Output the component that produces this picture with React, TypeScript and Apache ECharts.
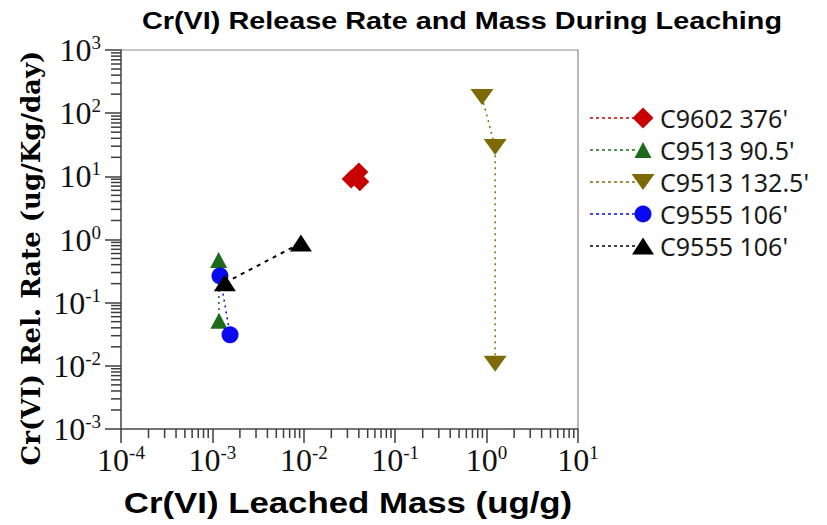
import React, { useEffect, useRef } from "react";
import * as echarts from "echarts";

// Series names and colours
const seriesNames = ["C9602 376'", "C9513 90.5'", "C9513 132.5'", "C9555 106'", "C9555 106'"];
const seriesColors = ["#c80000", "#1c6b1c", "#7d6a05", "#0a0af0", "#000000"];

// [leached mass (ug/g), release rate (ug/Kg/day)]
const c9602_376: [number, number][] = [
  [0.033, 9.1],
  [0.04, 11.7],
  [0.041, 8.2],
];
const c9513_905: [number, number][] = [
  [0.00117, 0.475],
  [0.00118, 0.0515],
];
const c9513_1325: [number, number][] = [
  [0.89, 180],
  [1.24, 29.2],
  [1.24, 0.0108],
];
const c9555_106a: [number, number][] = [
  [0.00121, 0.265],
  [0.00156, 0.031],
];
const c9555_106b: [number, number][] = [
  [0.00137, 0.206],
  [0.0093, 0.88],
];

const xRange = [1e-4, 10];
const yRange = [1e-3, 1e3];

// Decades used for the logarithmic minor ticks (2..9 within each decade)
const xDecades = [1e-4, 1e-3, 1e-2, 1e-1, 1];
const yDecades = [1e-3, 1e-2, 1e-1, 1, 10, 100];
const minorMultipliers = [2, 3, 4, 5, 6, 7, 8, 9];

const W = 827;
const H = 525;
const GRID = { left: 121, right: 249, top: 50, bottom: 96 };

const supLabel = (v: number) => {
  const e = Math.round(Math.log10(v));
  return `{b|10}{s|${e}}`;
};

const labelRich = {
  b: { fontFamily: "Liberation Serif", fontSize: 32, color: "#111", lineHeight: 34 },
  s: { fontFamily: "Liberation Serif", fontSize: 19, color: "#111", verticalAlign: "top", lineHeight: 34 },
};

const TICK_COLOR = "#3c3c3c";

export default function App() {
  const ref = useRef<HTMLDivElement>(null);

  useEffect(() => {
    document.body.style.margin = "0";
    if (!ref.current) return;
    const chart = echarts.init(ref.current, undefined, { renderer: "svg" });

    const symbolDefs = [
      { symbol: "diamond", size: [19, 19], rotate: 0 },
      { symbol: "triangle", size: [17, 16], rotate: 0 },
      { symbol: "triangle", size: [23, 16], rotate: 180 },
      { symbol: "circle", size: [17, 17], rotate: 0 },
      { symbol: "triangle", size: [22, 17], rotate: 0 },
    ];
    const datasets = [c9602_376, c9513_905, c9513_1325, c9555_106a, c9555_106b];

    const series: any[] = datasets.map((d, i) => ({
      type: "line",
      name: seriesNames[i],
      data: d,
      symbol: symbolDefs[i].symbol,
      symbolSize: symbolDefs[i].size,
      symbolRotate: symbolDefs[i].rotate,
      lineStyle: {
        color: seriesColors[i],
        width: i === 4 ? 2 : 1.5,
        type: i === 4 ? [4, 5] : [2, 4],
      },
      itemStyle: { color: seriesColors[i] },
      z: 3 + i,
    }));

    // Hand-drawn legend: dotted line sample followed by the marker
    const legendTop = 118;
    const legendStep = 32;
    const legendEls: any[] = [];
    seriesNames.forEach((name, i) => {
      const y = legendTop + i * legendStep;
      const c = seriesColors[i];
      legendEls.push({
        type: "line",
        shape: { x1: 590, y1: y, x2: 636, y2: y },
        style: { stroke: c, lineWidth: 1.4, lineDash: [3, 3] },
      });
      const mx = 643;
      const sd = symbolDefs[i];
      const hw = sd.size[0] / 2;
      const hh = sd.size[1] / 2;
      if (sd.symbol === "circle") {
        legendEls.push({ type: "circle", shape: { cx: mx, cy: y, r: hw }, style: { fill: c } });
      } else if (sd.symbol === "diamond") {
        legendEls.push({
          type: "polygon",
          shape: { points: [[mx, y - hh - 1], [mx + hw + 1, y], [mx, y + hh + 1], [mx - hw - 1, y]] },
          style: { fill: c },
        });
      } else if (sd.rotate === 180) {
        legendEls.push({
          type: "polygon",
          shape: { points: [[mx - hw, y - hh], [mx + hw, y - hh], [mx, y + hh]] },
          style: { fill: c },
        });
      } else {
        legendEls.push({
          type: "polygon",
          shape: { points: [[mx - hw, y + hh], [mx + hw, y + hh], [mx, y - hh]] },
          style: { fill: c },
        });
      }
      legendEls.push({
        type: "text",
        x: 660,
        y: y,
        style: {
          text: name,
          font: '25px "Noto Sans"',
          lineHeight: 28,
          fill: "#1a1a1a",
          textAlign: "left",
          textVerticalAlign: "middle",
        },
      });
    });

    const titles: any[] = [
      {
        type: "text",
        x: 462,
        y: 21,
        scaleX: 1.2,
        style: {
          text: "Cr(VI) Release Rate and Mass During Leaching",
          font: 'bold 24px "Liberation Sans"',
          fill: "#000",
          textAlign: "center",
          textVerticalAlign: "middle",
        },
      },
      {
        type: "text",
        x: 348,
        y: 503,
        scaleX: 1.2,
        style: {
          text: "Cr(VI) Leached Mass (ug/g)",
          font: 'bold 29px "Liberation Sans"',
          fill: "#000",
          textAlign: "center",
          textVerticalAlign: "middle",
        },
      },
      {
        type: "text",
        x: 31,
        y: 258,
        rotation: Math.PI / 2,
        style: {
          text: "Cr(VI) Rel. Rate (ug/Kg/day)",
          font: 'bold 26px "DejaVu Serif"',
          fill: "#000",
          textAlign: "center",
          textVerticalAlign: "middle",
        },
      },
    ];

    const option: any = {
      animation: false,
      backgroundColor: "#ffffff",
      grid: {
        ...GRID,
        show: true,
        borderColor: "#8c8c8c",
        borderWidth: 1.2,
        backgroundColor: "transparent",
      },
      xAxis: {
        type: "log",
        logBase: 10,
        min: xRange[0],
        max: xRange[1],
        interval: 1,
        axisLine: { show: true, lineStyle: { color: "#5a5a5a", width: 1.5 } },
        axisTick: { show: true, inside: false, length: 14, lineStyle: { color: TICK_COLOR, width: 1.5 } },
        splitLine: { show: false },
        axisLabel: { formatter: supLabel, rich: labelRich, margin: 14, showMaxLabel: true, showMinLabel: true },
      },
      yAxis: {
        type: "log",
        logBase: 10,
        min: yRange[0],
        max: yRange[1],
        interval: 1,
        axisLine: { show: true, lineStyle: { color: "#5a5a5a", width: 1.5 } },
        axisTick: { show: true, inside: false, length: 16, lineStyle: { color: TICK_COLOR, width: 1.5 } },
        splitLine: { show: false },
        axisLabel: { formatter: supLabel, rich: labelRich, margin: 20, showMaxLabel: true, showMinLabel: true },
      },
      series,
      graphic: [...titles, ...legendEls],
    };

    chart.setOption(option);

    // Logarithmic minor ticks, positioned through the axes' own scales
    const minorEls: any[] = [];
    xDecades.forEach((d) =>
      minorMultipliers.forEach((m) => {
        const p = chart.convertToPixel({ gridIndex: 0 }, [d * m, yRange[0]]) as number[];
        if (!p) return;
        minorEls.push({
          type: "line",
          silent: true,
          z: 50,
          shape: { x1: p[0], y1: p[1], x2: p[0], y2: p[1] + 9 },
          style: { stroke: TICK_COLOR, lineWidth: 1.5 },
        });
      })
    );
    yDecades.forEach((d) =>
      minorMultipliers.forEach((m) => {
        const p = chart.convertToPixel({ gridIndex: 0 }, [xRange[0], d * m]) as number[];
        if (!p) return;
        minorEls.push({
          type: "line",
          silent: true,
          z: 50,
          shape: { x1: p[0] - 10, y1: p[1], x2: p[0], y2: p[1] },
          style: { stroke: TICK_COLOR, lineWidth: 1.5 },
        });
      })
    );
    chart.setOption({ graphic: [...titles, ...legendEls, ...minorEls] });

    return () => chart.dispose();
  }, []);

  return <div ref={ref} style={{ width: W, height: H }} />;
}
